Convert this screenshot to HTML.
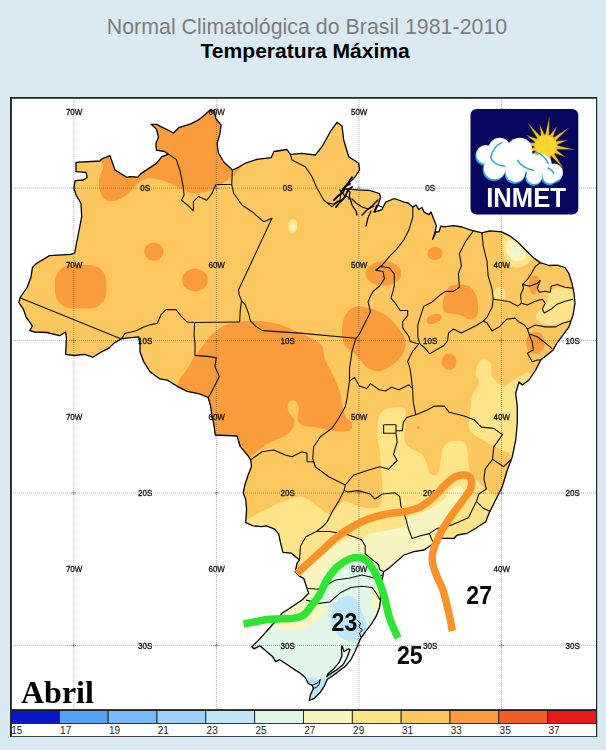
<!DOCTYPE html>
<html><head><meta charset="utf-8"><title>Normal Climatologica</title>
<style>
html,body{margin:0;padding:0}
body{width:606px;height:750px;background:#daeaf3;position:relative;overflow:hidden;font-family:"Liberation Sans",sans-serif}
.t1{position:absolute;left:106.8px;top:14.7px;font-size:21.38px;color:#7d7d7d;line-height:24px;white-space:nowrap;opacity:.999}
.t2{position:absolute;left:200.5px;top:39.2px;font-size:21.08px;font-weight:bold;color:#000;line-height:24px;white-space:nowrap;opacity:.999}
</style></head><body>
<div class="t1">Normal Climatológica do Brasil 1981-2010</div>
<div class="t2">Temperatura Máxima</div>
<svg width="606" height="750" viewBox="0 0 606 750" style="position:absolute;left:0;top:0">
<defs><clipPath id="br"><path d="M76.0 162.3 L100.0 161.0 L101.7 159.0 L110.0 155.7 L115.0 170.0 L126.7 177.3 L130.0 176.6 L137.9 177.1 L140.6 173.9 L148.5 168.6 L156.4 163.4 L161.7 156.8 L168.3 154.1 L164.3 151.5 L156.4 150.2 L155.9 143.6 L158.5 137.0 L156.4 129.0 L151.1 124.3 L156.4 124.3 L163.0 127.7 L173.6 133.0 L178.8 127.7 L190.7 123.8 L198.6 119.8 L205.2 114.5 L209.2 110.6 L214.5 110.6 L215.8 118.5 L221.1 125.1 L219.8 134.3 L217.1 143.6 L218.4 152.8 L223.7 162.0 L232.4 170.0 L238.3 167.3 L246.2 162.8 L256.7 159.4 L271.3 157.6 L273.9 151.5 L287.0 149.5 L290.3 154.3 L302.0 153.3 L315.3 155.0 L322.0 146.7 L330.3 131.7 L337.0 122.3 L342.0 126.0 L343.7 140.0 L348.7 156.7 L358.7 163.3 L359.6 170.0 L354.7 177.4 L344.8 187.3 L341.0 191.5 L344.8 188.6 L357.1 189.8 L369.5 190.3 L379.4 193.5 L380.6 197.2 L378.2 204.7 L374.5 212.1 L381.9 209.6 L385.6 202.2 L394.3 198.5 L404.2 202.2 L408.0 203.0 L412.8 207.1 L416.0 205.0 L419.0 209.6 L422.0 207.5 L424.0 212.1 L428.9 214.6 L431.0 212.0 L433.9 219.5 L436.4 225.7 L435.1 231.9 L432.7 239.3 L436.0 232.0 L438.8 231.9 L441.0 226.0 L443.8 226.9 L453.7 225.7 L462.0 227.0 L470.0 229.9 L481.9 232.9 L489.8 230.9 L501.7 231.9 L509.6 235.8 L517.5 241.8 L525.4 249.7 L533.4 257.6 L540.3 262.6 L549.2 265.5 L557.1 265.1 L565.0 267.5 L569.0 273.5 L572.0 283.4 L574.0 293.3 L575.0 303.2 L573.0 315.0 L569.0 326.9 L563.1 334.9 L557.1 342.8 L553.2 349.9 L540.7 360.0 L535.7 370.0 L529.0 380.0 L522.3 385.0 L519.0 382.0 L515.7 393.3 L517.3 406.7 L517.3 423.3 L515.7 440.0 L512.3 456.7 L507.3 470.0 L502.3 486.7 L499.0 493.3 L494.0 503.3 L489.0 513.3 L485.7 521.7 L475.7 528.3 L467.3 533.3 L457.3 535.0 L454.0 538.3 L440.7 538.3 L434.0 543.3 L424.0 550.0 L414.0 551.7 L404.0 555.0 L388.7 568.3 L383.7 571.7 L382.0 580.0 L380.3 590.0 L380.6 600.0 L379.4 607.9 L376.4 615.8 L371.5 623.8 L365.5 631.7 L360.6 638.6 L357.6 645.5 L354.9 651.8 L350.9 659.7 L345.0 666.6 L337.0 672.6 L330.1 677.5 L327.1 679.5 L324.2 686.4 L320.2 692.4 L314.3 698.3 L309.3 700.5 L310.3 695.3 L313.3 688.4 L312.3 685.4 L308.3 683.5 L305.3 677.5 L299.4 672.6 L294.5 669.6 L287.5 664.7 L279.6 659.7 L275.6 661.7 L272.7 656.7 L265.7 650.8 L259.8 645.8 L253.9 648.8 L251.9 646.8 L259.8 638.9 L267.7 630.0 L273.7 623.3 L282.0 613.3 L292.0 606.7 L302.0 600.0 L308.7 593.3 L307.0 588.3 L303.7 578.3 L300.3 576.7 L295.3 571.7 L297.0 563.3 L299.4 560.0 L291.1 553.1 L282.9 552.3 L280.4 542.4 L278.7 534.2 L274.6 529.2 L266.4 525.9 L261.4 526.7 L253.2 525.9 L245.7 522.6 L246.6 509.4 L245.7 499.5 L243.3 492.9 L244.9 484.7 L248.2 474.8 L251.5 466.5 L250.7 459.9 L248.7 456.7 L240.3 446.7 L237.0 436.0 L215.3 435.0 L213.7 423.3 L211.9 416.0 L210.6 406.1 L208.2 397.5 L199.5 393.8 L187.1 391.3 L177.2 386.3 L167.3 380.1 L159.9 378.9 L149.9 371.6 L143.7 361.7 L140.0 351.8 L140.0 344.4 L138.7 336.9 L126.3 338.2 L121.4 338.9 L114.0 343.1 L109.0 348.1 L101.6 351.8 L92.9 357.2 L84.3 354.3 L74.4 355.5 L65.7 354.3 L66.4 338.2 L65.7 332.0 L59.5 335.7 L47.1 332.5 L34.8 332.0 L29.8 330.7 L32.3 325.8 L26.1 317.1 L23.6 309.7 L18.7 302.3 L19.9 298.6 L21.1 296.0 L27.2 287.3 L31.1 276.7 L32.4 267.5 L36.4 263.5 L49.6 255.6 L70.7 254.3 L74.7 253.0 L76.0 246.0 L81.7 216.7 L81.0 203.3 L76.0 195.0 L74.0 188.3 L75.0 180.7 L83.3 180.0 L87.3 177.3 L86.0 172.3 L76.0 171.7Z"/></clipPath></defs>
<rect x="10" y="97" width="587" height="640" fill="#fff"/>
<g clip-path="url(#br)">
<rect x="0" y="90" width="606" height="640" fill="#fdc75f"/>
<path d="M235.0 522.0 C237.9 488.6 243.3 520.8 247.4 519.3 C251.5 517.8 255.5 514.9 259.8 512.7 C264.1 510.5 268.9 508.0 273.0 506.1 C277.1 504.2 280.9 502.6 284.5 501.2 C288.1 499.8 291.4 498.6 294.4 497.9 C297.4 497.2 299.9 496.4 302.7 497.0 C305.4 497.6 308.1 499.4 310.9 501.2 C313.6 503.0 316.4 505.8 319.2 507.8 C321.9 509.9 325.2 512.7 327.4 513.5 C329.6 514.3 330.1 514.4 332.4 512.7 C334.7 511.0 338.7 504.9 341.4 503.1 C344.1 501.3 345.9 501.3 348.8 501.9 C351.7 502.5 355.4 505.8 358.7 506.8 C362.0 507.8 365.1 508.2 368.6 508.1 C372.1 508.0 377.6 509.5 379.9 506.3 C382.2 503.1 382.2 494.8 382.4 489.0 C382.6 483.2 381.5 477.9 381.1 471.7 C380.7 465.5 380.5 458.1 379.9 451.9 C379.3 445.7 377.6 440.4 377.4 434.6 C377.2 428.8 377.4 421.3 378.7 417.2 C379.9 413.1 381.8 411.4 384.9 409.8 C388.0 408.2 393.9 407.5 397.2 407.3 C400.5 407.1 403.2 407.0 404.7 408.6 C406.1 410.2 405.9 413.7 405.9 417.2 C405.9 420.7 404.9 425.5 404.7 429.6 C404.5 433.7 403.5 438.7 404.7 442.0 C405.9 445.3 409.2 447.3 412.1 449.4 C415.0 451.5 419.5 451.9 422.0 454.4 C424.5 456.9 425.7 461.2 426.9 464.3 C428.1 467.4 427.9 471.0 429.4 472.9 C430.8 474.8 434.0 476.0 435.6 475.4 C437.2 474.8 438.3 473.1 439.3 469.2 C440.3 465.3 440.6 456.2 441.8 451.9 C443.0 447.6 444.2 445.1 446.7 443.2 C449.2 441.3 453.5 440.7 456.6 440.7 C459.7 440.7 463.4 440.9 465.3 443.2 C467.2 445.5 467.2 450.5 467.8 454.4 C468.4 458.3 468.0 463.0 469.0 466.7 C470.0 470.4 471.9 473.5 474.0 476.6 C476.1 479.7 478.9 482.8 481.4 485.3 C483.9 487.8 485.9 489.6 488.8 491.5 C491.7 493.4 494.3 495.3 498.7 496.4 C503.1 497.5 511.4 460.7 515.0 498.0 C518.5 535.3 567.5 683.0 520.0 720.0 C472.5 757.0 277.5 753.0 230.0 720.0 C182.5 687.0 232.1 555.5 235.0 522.0Z" fill="#fde488"/>
<path d="M480.7 360.0 C483.2 358.3 488.8 360.5 490.7 363.3 C492.6 366.1 490.1 372.8 492.3 376.7 C494.5 380.6 500.4 386.1 504.0 386.7 C507.6 387.2 509.3 381.4 514.0 380.0 C518.7 378.6 529.0 365.0 532.0 378.0 C535.0 391.0 535.3 445.1 532.0 458.0 C528.7 470.9 516.2 456.4 512.3 455.6 C508.4 454.8 510.9 454.3 508.6 453.1 C506.3 451.9 502.4 450.1 498.7 448.2 C495.0 446.3 490.4 444.3 486.3 442.0 C482.2 439.7 476.9 437.1 474.0 434.6 C471.1 432.1 469.7 430.2 469.0 427.1 C468.3 424.0 469.5 421.0 470.0 416.0 C470.5 411.0 470.5 402.5 472.0 397.0 C473.5 391.5 478.4 386.9 479.0 383.0 C479.6 379.1 475.4 377.1 475.7 373.3 C476.0 369.5 478.2 361.7 480.7 360.0Z" fill="#fde488"/>
<path d="M292.0 576.0 C294.1 573.1 295.6 573.9 297.9 572.4 C300.2 570.9 302.7 569.3 305.8 567.1 C308.9 564.9 312.4 562.2 316.4 559.2 C320.4 556.2 325.6 552.1 330.0 549.0 C334.4 545.9 338.9 542.7 342.8 540.7 C346.7 538.7 350.3 537.0 353.4 536.8 C356.5 536.6 358.7 539.8 361.3 539.4 C363.9 539.0 366.1 535.4 369.2 534.1 C372.3 532.8 375.4 532.4 379.8 531.5 C384.2 530.6 391.2 529.9 395.6 528.8 C400.0 527.7 404.3 526.6 406.2 524.9 C408.1 523.2 404.9 520.6 407.1 518.7 C409.3 516.9 414.9 515.9 419.5 513.8 C424.1 511.7 430.3 508.8 434.4 506.3 C438.5 503.8 441.4 501.8 444.3 498.9 C447.2 496.0 449.0 491.1 451.7 489.0 C454.4 486.9 458.2 485.7 460.3 486.5 C462.4 487.3 464.7 490.7 464.1 494.0 C463.5 497.3 459.5 501.8 456.6 506.3 C453.7 510.8 449.6 516.7 446.7 521.2 C443.8 525.8 441.1 529.6 439.3 533.6 C437.5 537.6 436.6 540.6 436.0 545.0 C435.4 549.4 442.0 550.8 436.0 560.0 C430.0 569.2 407.7 573.3 400.0 600.0 C392.3 626.7 416.7 700.0 390.0 720.0 C363.3 740.0 265.0 740.0 240.0 720.0 C215.0 700.0 232.5 621.7 240.0 600.0 C247.5 578.3 276.3 594.0 285.0 590.0 C293.7 586.0 289.9 578.9 292.0 576.0Z" fill="#f8f5c0"/>
<path d="M300.0 608.0 C306.4 605.4 305.3 602.1 308.1 599.4 C310.9 596.6 314.8 594.4 316.6 591.5 C318.5 588.6 317.9 585.1 319.2 582.2 C320.5 579.3 321.9 577.1 324.5 574.3 C327.1 571.4 330.6 568.2 335.0 565.1 C339.4 562.0 346.0 557.6 350.9 555.8 C355.8 554.0 360.6 553.6 364.1 554.5 C367.6 555.4 369.8 559.1 372.0 561.1 C374.2 563.1 375.5 564.4 377.3 566.4 C379.1 568.4 380.1 570.7 383.0 573.0 C385.9 575.3 393.0 555.5 395.0 580.0 C397.0 604.5 420.8 696.7 395.0 720.0 C369.2 743.3 265.8 733.3 240.0 720.0 C214.2 706.7 235.0 657.5 240.0 640.0 C245.0 622.5 260.0 620.3 270.0 615.0 C280.0 609.7 293.6 610.6 300.0 608.0Z" fill="#dff6e8"/>
<path d="M268.0 622.0 C268.9 620.7 275.9 620.4 279.6 617.9 C283.3 615.4 286.7 609.9 290.2 607.3 C293.7 604.6 296.8 602.6 300.7 602.0 C304.6 601.4 310.4 603.2 313.9 603.4 C317.4 603.6 319.6 602.5 321.8 603.4 C324.0 604.3 327.1 606.4 327.1 608.6 C327.1 610.8 324.4 614.0 321.8 616.6 C319.2 619.2 315.2 622.3 311.3 624.5 C307.4 626.7 302.5 628.8 298.1 629.8 C293.7 630.8 288.9 631.0 284.9 630.3 C280.9 629.6 277.1 627.2 274.3 625.8 C271.5 624.4 267.1 623.3 268.0 622.0Z" fill="#f8f5c0"/>
<path d="M384.5 600.0 C384.5 601.7 384.3 603.6 384.0 605.2 C383.7 606.8 383.2 608.3 382.6 609.5 C382.0 610.8 381.3 611.8 380.5 612.5 C379.7 613.1 378.8 613.5 378.0 613.5 C377.2 613.5 376.3 613.1 375.5 612.5 C374.7 611.8 374.0 610.8 373.4 609.5 C372.8 608.3 372.3 606.8 372.0 605.2 C371.7 603.6 371.5 601.7 371.5 600.0 C371.5 598.3 371.7 596.4 372.0 594.8 C372.3 593.2 372.8 591.7 373.4 590.5 C374.0 589.2 374.7 588.2 375.5 587.5 C376.3 586.9 377.2 586.5 378.0 586.5 C378.8 586.5 379.7 586.9 380.5 587.5 C381.3 588.2 382.0 589.2 382.6 590.5 C383.2 591.7 383.7 593.2 384.0 594.8 C384.3 596.4 384.5 598.3 384.5 600.0Z" fill="#f8f5c0"/>
<path d="M335.0 603.4 C337.3 601.1 342.1 596.7 345.6 596.0 C349.1 595.3 353.3 596.4 356.2 599.4 C359.1 602.4 361.1 609.7 362.8 613.9 C364.6 618.1 366.9 620.5 366.7 624.5 C366.5 628.5 364.1 634.9 361.5 637.7 C358.9 640.6 354.2 641.6 350.9 641.6 C347.6 641.6 344.5 639.7 341.6 637.7 C338.7 635.7 335.5 632.9 333.7 629.8 C331.9 626.7 330.9 622.5 330.6 619.2 C330.3 615.9 331.2 612.6 331.9 610.0 C332.6 607.4 332.7 605.7 335.0 603.4Z" fill="#bfe6f8"/>
<path d="M303.0 679.5 C303.7 674.5 305.6 678.7 307.3 678.3 C309.0 677.9 311.5 677.2 313.3 677.3 C315.1 677.4 316.6 678.9 318.2 679.0 C319.8 679.1 320.7 678.8 323.0 678.0 C325.3 677.2 329.8 670.0 332.0 674.0 C334.2 678.0 340.8 696.3 336.0 702.0 C331.2 707.7 308.5 711.8 303.0 708.0 C297.5 704.2 302.3 684.5 303.0 679.5Z" fill="#bfe6f8"/>
<path d="M502.7 237.8 C503.8 236.2 506.2 233.0 509.0 234.0 C511.8 235.0 516.1 240.7 519.5 243.8 C522.9 246.9 527.6 250.1 529.4 252.7 C531.2 255.3 531.1 257.5 530.4 259.6 C529.7 261.7 527.9 264.2 525.4 265.5 C522.9 266.8 518.5 267.8 515.5 267.5 C512.5 267.2 509.6 265.9 507.6 263.6 C505.6 261.3 504.5 257.0 503.7 253.7 C502.9 250.4 502.9 246.5 502.7 243.8 C502.5 241.2 501.6 239.4 502.7 237.8Z" fill="#fde488"/>
<path d="M507.6 241.8 C509.1 240.8 512.7 239.7 515.5 240.8 C518.3 242.0 522.7 246.2 524.5 248.7 C526.3 251.2 526.9 253.6 526.4 255.6 C525.9 257.6 523.8 259.8 521.5 260.6 C519.2 261.4 514.9 261.8 512.6 260.6 C510.3 259.5 508.7 256.0 507.6 253.7 C506.6 251.4 506.3 248.7 506.3 246.7 C506.3 244.7 506.1 242.8 507.6 241.8Z" fill="#f8f5c0"/>
<path d="M518.6 250.7 C518.6 251.0 518.5 251.4 518.4 251.7 C518.3 252.1 518.1 252.4 517.8 252.6 C517.6 252.9 517.3 253.1 516.9 253.2 C516.6 253.3 516.2 253.4 515.9 253.4 C515.6 253.4 515.2 253.3 514.9 253.2 C514.5 253.1 514.2 252.9 514.0 252.6 C513.7 252.4 513.5 252.1 513.4 251.7 C513.3 251.4 513.2 251.0 513.2 250.7 C513.2 250.4 513.3 250.0 513.4 249.7 C513.5 249.3 513.7 249.0 514.0 248.8 C514.2 248.5 514.5 248.3 514.9 248.2 C515.2 248.1 515.6 248.0 515.9 248.0 C516.2 248.0 516.6 248.1 516.9 248.2 C517.3 248.3 517.6 248.5 517.8 248.8 C518.1 249.0 518.3 249.3 518.4 249.7 C518.5 250.0 518.6 250.4 518.6 250.7Z" fill="#dff6e8"/>
<path d="M505.7 294.3 C505.7 295.2 505.5 296.2 505.2 297.0 C505.0 297.8 504.5 298.6 503.9 299.2 C503.4 299.9 502.7 300.4 502.0 300.8 C501.3 301.1 500.5 301.3 499.7 301.3 C498.9 301.3 498.1 301.1 497.4 300.8 C496.7 300.4 496.0 299.9 495.5 299.2 C494.9 298.6 494.4 297.8 494.2 297.0 C493.9 296.2 493.7 295.2 493.7 294.3 C493.7 293.4 493.9 292.4 494.2 291.6 C494.4 290.8 494.9 290.0 495.5 289.4 C496.0 288.7 496.7 288.2 497.4 287.8 C498.1 287.5 498.9 287.3 499.7 287.3 C500.5 287.3 501.3 287.5 502.0 287.8 C502.7 288.2 503.4 288.7 503.9 289.4 C504.5 290.0 505.0 290.8 505.2 291.6 C505.5 292.4 505.7 293.4 505.7 294.3Z" fill="#fde488"/>
<path d="M549.2 293.3 C550.7 291.5 554.1 289.0 557.1 288.3 C560.1 287.6 563.5 288.7 567.0 289.3 C570.5 289.9 576.2 287.2 578.0 292.0 C579.8 296.8 579.2 313.7 578.0 318.0 C576.8 322.3 573.5 317.2 571.0 318.0 C568.5 318.8 566.1 321.8 563.1 323.0 C560.1 324.2 556.5 325.0 553.2 325.0 C549.9 325.0 546.1 324.0 543.3 323.0 C540.5 322.0 537.3 320.6 536.3 319.0 C535.3 317.4 536.1 315.1 537.3 313.1 C538.5 311.1 541.5 309.4 543.3 307.1 C545.1 304.8 547.2 301.5 548.2 299.2 C549.2 296.9 547.7 295.1 549.2 293.3Z" fill="#fde488"/>
<path d="M297.3 226.0 C297.3 226.9 297.2 227.8 296.9 228.6 C296.7 229.4 296.4 230.2 296.0 230.8 C295.5 231.4 295.0 232.0 294.5 232.3 C293.9 232.6 293.3 232.8 292.7 232.8 C292.1 232.8 291.5 232.6 290.9 232.3 C290.4 232.0 289.9 231.4 289.4 230.8 C289.0 230.2 288.7 229.4 288.5 228.6 C288.2 227.8 288.1 226.9 288.1 226.0 C288.1 225.1 288.2 224.2 288.5 223.4 C288.7 222.6 289.0 221.8 289.4 221.2 C289.9 220.6 290.4 220.0 290.9 219.7 C291.5 219.4 292.1 219.2 292.7 219.2 C293.3 219.2 293.9 219.4 294.5 219.7 C295.0 220.0 295.5 220.6 296.0 221.2 C296.4 221.8 296.7 222.6 296.9 223.4 C297.2 224.2 297.3 225.1 297.3 226.0Z" fill="#fde488"/>
<path d="M295.3 226.5 C295.3 227.0 295.2 227.6 295.1 228.1 C295.0 228.6 294.8 229.1 294.5 229.5 C294.3 229.8 294.0 230.2 293.7 230.4 C293.4 230.6 293.0 230.7 292.7 230.7 C292.4 230.7 292.0 230.6 291.7 230.4 C291.4 230.2 291.1 229.8 290.9 229.5 C290.6 229.1 290.4 228.6 290.3 228.1 C290.2 227.6 290.1 227.0 290.1 226.5 C290.1 226.0 290.2 225.4 290.3 224.9 C290.4 224.4 290.6 223.9 290.9 223.5 C291.1 223.2 291.4 222.8 291.7 222.6 C292.0 222.4 292.4 222.3 292.7 222.3 C293.0 222.3 293.4 222.4 293.7 222.6 C294.0 222.8 294.3 223.2 294.5 223.5 C294.8 223.9 295.0 224.4 295.1 224.9 C295.2 225.4 295.3 226.0 295.3 226.5Z" fill="#f8f5c0"/>
<path d="M95.0 150.0 C96.3 160.8 102.3 160.0 103.0 165.0 C103.7 170.0 99.3 175.2 99.0 180.0 C98.7 184.8 99.5 190.5 101.0 194.0 C102.5 197.5 104.8 200.2 108.0 201.0 C111.2 201.8 116.3 200.6 120.0 199.0 C123.7 197.4 126.1 194.8 130.0 191.5 C133.9 188.2 138.8 181.6 143.2 179.5 C147.6 177.4 152.0 178.6 156.4 179.2 C160.8 179.8 165.2 181.4 169.6 183.2 C174.0 185.0 179.3 188.2 182.8 189.8 C186.3 191.4 187.2 192.5 190.7 192.9 C194.2 193.3 199.9 193.2 203.9 192.4 C207.9 191.7 211.0 190.2 214.5 188.4 C218.0 186.6 222.1 183.8 225.0 181.8 C227.9 179.8 229.0 179.0 231.7 176.6 C234.3 174.2 238.7 171.7 240.9 167.3 C243.1 162.9 245.2 161.2 245.0 150.0 C244.8 138.8 265.0 108.3 240.0 100.0 C215.0 91.7 119.2 91.7 95.0 100.0 C70.8 108.3 93.7 139.2 95.0 150.0Z" fill="#fa9c3b"/>
<path d="M163.5 251.6 C163.5 252.8 163.2 254.0 162.8 255.1 C162.3 256.2 161.6 257.2 160.7 258.0 C159.8 258.9 158.7 259.6 157.6 260.0 C156.4 260.5 155.1 260.7 153.9 260.7 C152.7 260.7 151.4 260.5 150.2 260.0 C149.1 259.6 148.0 258.9 147.1 258.0 C146.2 257.2 145.5 256.2 145.0 255.1 C144.6 254.0 144.3 252.8 144.3 251.6 C144.3 250.4 144.6 249.2 145.0 248.1 C145.5 247.0 146.2 246.0 147.1 245.2 C148.0 244.3 149.1 243.6 150.2 243.2 C151.4 242.7 152.7 242.5 153.9 242.5 C155.1 242.5 156.4 242.7 157.6 243.2 C158.7 243.6 159.8 244.3 160.7 245.2 C161.6 246.0 162.3 247.0 162.8 248.1 C163.2 249.2 163.5 250.4 163.5 251.6Z" fill="#fa9c3b"/>
<path d="M208.0 280.0 C208.0 281.5 207.6 283.0 207.0 284.4 C206.4 285.8 205.4 287.1 204.2 288.1 C203.0 289.2 201.5 290.1 200.0 290.6 C198.4 291.2 196.7 291.5 195.0 291.5 C193.3 291.5 191.6 291.2 190.0 290.6 C188.5 290.1 187.0 289.2 185.8 288.1 C184.6 287.1 183.6 285.8 183.0 284.4 C182.4 283.0 182.0 281.5 182.0 280.0 C182.0 278.5 182.4 277.0 183.0 275.6 C183.6 274.2 184.6 272.9 185.8 271.9 C187.0 270.8 188.5 269.9 190.0 269.4 C191.6 268.8 193.3 268.5 195.0 268.5 C196.7 268.5 198.4 268.8 200.0 269.4 C201.5 269.9 203.0 270.8 204.2 271.9 C205.4 272.9 206.4 274.2 207.0 275.6 C207.6 277.0 208.0 278.5 208.0 280.0Z" fill="#fa9c3b"/>
<rect x="55" y="265" width="51.5" height="43.5" rx="17" ry="17" fill="#fa9c3b"/>
<path d="M172.0 392.0 C169.0 389.5 175.9 387.3 177.2 385.1 C178.5 382.9 178.0 381.6 179.7 378.9 C181.3 376.2 184.6 372.7 187.1 369.0 C189.6 365.3 192.1 360.3 194.6 356.6 C197.1 352.9 199.1 350.4 202.0 346.7 C204.9 343.0 208.2 337.9 211.9 334.4 C215.6 330.9 219.8 327.8 224.3 325.7 C228.8 323.6 234.2 322.8 239.1 322.0 C244.0 321.2 249.1 320.7 254.0 320.7 C258.9 320.7 263.9 321.2 268.8 322.0 C273.8 322.8 278.5 323.9 283.7 325.7 C288.9 327.5 294.8 330.6 300.0 333.0 C305.2 335.4 311.2 338.0 314.9 340.2 C318.6 342.4 320.6 343.3 322.3 346.4 C324.0 349.5 323.2 354.2 324.8 358.8 C326.4 363.4 329.7 368.3 332.2 373.7 C334.7 379.1 337.8 385.3 339.6 391.0 C341.4 396.7 341.9 403.7 343.0 408.0 C344.1 412.3 344.5 414.4 346.0 417.0 C347.5 419.6 351.3 421.1 352.0 423.3 C352.7 425.5 352.0 428.6 350.3 430.0 C348.6 431.4 345.6 431.7 342.0 431.7 C338.4 431.7 333.7 430.8 328.7 430.0 C323.7 429.2 315.8 427.3 312.0 426.7 C308.2 426.1 307.9 426.9 306.0 426.5 C304.1 426.1 301.9 425.2 300.5 424.0 C299.1 422.8 297.8 421.5 297.5 419.5 C297.2 417.5 298.4 414.4 298.5 412.0 C298.6 409.6 298.7 406.9 298.0 405.0 C297.3 403.1 295.8 401.2 294.5 400.5 C293.2 399.8 291.2 400.1 290.0 401.0 C288.8 401.9 287.7 404.1 287.5 406.0 C287.3 407.9 288.1 410.6 289.0 412.5 C289.9 414.4 292.1 415.8 293.0 417.5 C293.9 419.2 294.6 420.6 294.5 422.5 C294.4 424.4 293.7 426.8 292.2 429.0 C290.7 431.2 289.5 433.2 285.6 435.6 C281.7 438.0 273.2 440.9 268.7 443.3 C264.2 445.7 261.8 447.8 258.7 450.0 C255.6 452.2 253.4 454.7 250.3 456.7 C247.2 458.7 244.2 463.9 240.0 462.0 C235.8 460.1 230.8 448.7 225.0 445.0 C219.2 441.3 210.0 447.5 205.0 440.0 C200.0 432.5 200.5 408.0 195.0 400.0 C189.5 392.0 175.0 394.5 172.0 392.0Z" fill="#fa9c3b"/>
<path d="M342.0 331.6 C342.0 326.9 342.5 320.8 344.6 316.7 C346.7 312.6 350.4 308.2 354.5 306.8 C358.6 305.4 364.4 306.8 369.3 308.0 C374.2 309.2 379.7 311.4 384.2 314.3 C388.7 317.2 393.0 321.3 396.5 325.4 C400.0 329.5 403.9 334.7 405.2 339.0 C406.4 343.3 405.9 347.3 404.0 351.4 C402.1 355.5 398.1 360.5 394.0 363.8 C389.9 367.1 383.7 370.6 379.2 371.2 C374.7 371.8 370.1 369.6 366.8 367.5 C363.5 365.4 361.9 361.5 359.4 358.8 C356.9 356.1 354.5 353.7 352.0 351.4 C349.5 349.1 346.3 348.5 344.6 345.2 C342.9 341.9 342.0 336.4 342.0 331.6Z" fill="#fa9c3b"/>
<path d="M401.5 273.5 C401.5 275.1 401.0 276.7 400.1 278.2 C399.3 279.6 397.9 281.0 396.2 282.1 C394.6 283.2 392.5 284.2 390.4 284.8 C388.3 285.4 385.8 285.7 383.5 285.7 C381.2 285.7 378.7 285.4 376.6 284.8 C374.5 284.2 372.4 283.2 370.8 282.1 C369.1 281.0 367.7 279.6 366.9 278.2 C366.0 276.7 365.5 275.1 365.5 273.5 C365.5 271.9 366.0 270.3 366.9 268.8 C367.7 267.4 369.1 266.0 370.8 264.9 C372.4 263.8 374.5 262.8 376.6 262.2 C378.7 261.6 381.2 261.3 383.5 261.3 C385.8 261.3 388.3 261.6 390.4 262.2 C392.5 262.8 394.6 263.8 396.2 264.9 C397.9 266.0 399.3 267.4 400.1 268.8 C401.0 270.3 401.5 271.9 401.5 273.5Z" fill="#fa9c3b"/>
<path d="M442.6 253.5 C442.6 254.3 442.4 255.2 442.0 256.0 C441.7 256.8 441.1 257.6 440.4 258.2 C439.7 258.8 438.8 259.3 437.9 259.6 C437.0 259.9 436.0 260.1 435.0 260.1 C434.0 260.1 433.0 259.9 432.1 259.6 C431.2 259.3 430.3 258.8 429.6 258.2 C428.9 257.6 428.3 256.8 428.0 256.0 C427.6 255.2 427.4 254.3 427.4 253.5 C427.4 252.7 427.6 251.8 428.0 251.0 C428.3 250.2 428.9 249.4 429.6 248.8 C430.3 248.2 431.2 247.7 432.1 247.4 C433.0 247.1 434.0 246.9 435.0 246.9 C436.0 246.9 437.0 247.1 437.9 247.4 C438.8 247.7 439.7 248.2 440.4 248.8 C441.1 249.4 441.7 250.2 442.0 251.0 C442.4 251.8 442.6 252.7 442.6 253.5Z" fill="#fa9c3b"/>
<path d="M442.0 316.5 C442.2 317.0 442.1 317.6 441.9 318.2 C441.6 318.8 441.2 319.5 440.6 320.0 C440.0 320.6 439.2 321.1 438.4 321.6 C437.6 322.0 436.6 322.4 435.6 322.7 C434.7 322.9 433.6 323.1 432.6 323.1 C431.7 323.1 430.7 323.1 430.0 322.9 C429.2 322.7 428.5 322.3 428.0 322.0 C427.5 321.6 427.1 321.0 427.0 320.5 C426.8 320.0 426.9 319.4 427.1 318.8 C427.4 318.2 427.8 317.5 428.4 317.0 C429.0 316.4 429.8 315.9 430.6 315.4 C431.4 315.0 432.4 314.6 433.4 314.3 C434.3 314.1 435.4 313.9 436.4 313.9 C437.3 313.9 438.3 313.9 439.0 314.1 C439.8 314.3 440.5 314.7 441.0 315.0 C441.5 315.4 441.9 316.0 442.0 316.5Z" fill="#fa9c3b"/>
<path d="M449.5 286.4 C451.8 284.9 456.1 284.5 459.4 284.5 C462.7 284.5 466.7 284.9 469.3 286.4 C471.9 287.9 473.8 291.0 475.2 293.4 C476.6 295.8 477.0 298.4 477.5 301.0 C478.0 303.6 478.4 306.5 478.2 309.2 C478.0 311.9 477.7 315.5 476.2 317.1 C474.7 318.8 472.1 319.4 469.3 319.1 C466.5 318.8 462.7 316.1 459.4 315.1 C456.1 314.1 452.1 313.9 449.5 313.2 C446.9 312.5 444.7 313.2 443.6 311.2 C442.5 309.2 442.7 304.3 443.0 301.3 C443.3 298.3 444.4 295.9 445.5 293.4 C446.6 290.9 447.2 287.9 449.5 286.4Z" fill="#fa9c3b"/>
<path d="M438.4 319.5 C438.5 319.9 438.4 320.4 438.2 320.9 C438.0 321.3 437.6 321.8 437.1 322.2 C436.6 322.6 436.0 323.0 435.3 323.3 C434.7 323.6 433.9 323.8 433.1 323.9 C432.4 324.1 431.5 324.1 430.8 324.1 C430.1 324.0 429.3 323.9 428.8 323.7 C428.2 323.5 427.6 323.1 427.3 322.8 C426.9 322.4 426.7 322.0 426.6 321.5 C426.5 321.1 426.6 320.6 426.8 320.1 C427.0 319.7 427.4 319.2 427.9 318.8 C428.4 318.4 429.0 318.0 429.7 317.7 C430.3 317.4 431.1 317.2 431.9 317.1 C432.6 316.9 433.5 316.9 434.2 316.9 C434.9 317.0 435.7 317.1 436.2 317.3 C436.8 317.5 437.4 317.9 437.7 318.2 C438.1 318.6 438.3 319.0 438.4 319.5Z" fill="#fa9c3b"/>
<path d="M529.4 279.4 C530.2 277.4 532.8 275.6 534.4 275.4 C536.0 275.2 538.6 276.4 539.3 278.4 C539.9 280.4 539.0 284.6 538.3 287.3 C537.6 290.0 536.4 293.3 535.3 294.3 C534.1 295.3 532.4 294.5 531.4 293.3 C530.4 292.1 529.7 289.6 529.4 287.3 C529.1 285.0 528.6 281.4 529.4 279.4Z" fill="#fa9c3b"/>
<path d="M545.0 343.0 C545.0 344.4 544.7 345.9 544.3 347.2 C543.8 348.5 543.1 349.8 542.2 350.8 C541.4 351.8 540.3 352.6 539.1 353.2 C538.0 353.7 536.7 354.0 535.5 354.0 C534.3 354.0 533.0 353.7 531.9 353.2 C530.7 352.6 529.6 351.8 528.8 350.8 C527.9 349.8 527.2 348.5 526.7 347.2 C526.3 345.9 526.0 344.4 526.0 343.0 C526.0 341.6 526.3 340.1 526.7 338.8 C527.2 337.5 527.9 336.2 528.8 335.2 C529.6 334.2 530.7 333.4 531.9 332.8 C533.0 332.3 534.3 332.0 535.5 332.0 C536.7 332.0 538.0 332.3 539.1 332.8 C540.3 333.4 541.4 334.2 542.2 335.2 C543.1 336.2 543.8 337.5 544.3 338.8 C544.7 340.1 545.0 341.6 545.0 343.0Z" fill="#fa9c3b"/>
<path d="M456.3 361.7 C456.3 362.8 456.1 363.9 455.7 364.9 C455.4 365.9 454.8 366.8 454.2 367.6 C453.5 368.3 452.7 369.0 451.8 369.4 C450.9 369.8 449.9 370.0 449.0 370.0 C448.1 370.0 447.1 369.8 446.2 369.4 C445.3 369.0 444.5 368.3 443.8 367.6 C443.2 366.8 442.6 365.9 442.3 364.9 C441.9 363.9 441.7 362.8 441.7 361.7 C441.7 360.6 441.9 359.5 442.3 358.5 C442.6 357.5 443.2 356.6 443.8 355.8 C444.5 355.1 445.3 354.4 446.2 354.0 C447.1 353.6 448.1 353.4 449.0 353.4 C449.9 353.4 450.9 353.6 451.8 354.0 C452.7 354.4 453.5 355.1 454.2 355.8 C454.8 356.6 455.4 357.5 455.7 358.5 C456.1 359.5 456.3 360.6 456.3 361.7Z" fill="#fa9c3b"/>
<path d="M419.9 427.7 C419.9 427.9 419.9 428.1 419.8 428.3 C419.7 428.5 419.6 428.7 419.4 428.8 C419.3 429.0 419.1 429.1 418.9 429.2 C418.7 429.3 418.5 429.3 418.3 429.3 C418.1 429.3 417.9 429.3 417.7 429.2 C417.5 429.1 417.3 429.0 417.2 428.8 C417.0 428.7 416.9 428.5 416.8 428.3 C416.7 428.1 416.7 427.9 416.7 427.7 C416.7 427.5 416.7 427.3 416.8 427.1 C416.9 426.9 417.0 426.7 417.2 426.6 C417.3 426.4 417.5 426.3 417.7 426.2 C417.9 426.1 418.1 426.1 418.3 426.1 C418.5 426.1 418.7 426.1 418.9 426.2 C419.1 426.3 419.3 426.4 419.4 426.6 C419.6 426.7 419.7 426.9 419.8 427.1 C419.9 427.3 419.9 427.5 419.9 427.7Z" fill="#fa9c3b"/>
<path d="M353.9 624.8 C353.9 625.1 353.8 625.4 353.7 625.6 C353.6 625.9 353.5 626.2 353.3 626.4 C353.1 626.6 352.8 626.7 352.5 626.8 C352.3 626.9 352.0 627.0 351.7 627.0 C351.4 627.0 351.1 626.9 350.9 626.8 C350.6 626.7 350.3 626.6 350.1 626.4 C349.9 626.2 349.8 625.9 349.7 625.6 C349.6 625.4 349.5 625.1 349.5 624.8 C349.5 624.5 349.6 624.2 349.7 624.0 C349.8 623.7 349.9 623.4 350.1 623.2 C350.3 623.0 350.6 622.9 350.9 622.8 C351.1 622.7 351.4 622.6 351.7 622.6 C352.0 622.6 352.3 622.7 352.5 622.8 C352.8 622.9 353.1 623.0 353.3 623.2 C353.5 623.4 353.6 623.7 353.7 624.0 C353.8 624.2 353.9 624.5 353.9 624.8Z" fill="#9cd0f8"/>
</g>
<g fill="none" stroke="#111" stroke-width="1.1" stroke-linejoin="round">
<path d="M168.3 154.1 L176.2 159.4 L180.2 171.3 L182.8 184.5 L184.1 195.0 L181.5 200.3 L188.1 205.6 L193.4 210.9 L193.4 201.6 L198.6 196.4 L206.6 200.3 L211.8 193.7 L215.8 184.5 L231.7 184.5 L232.4 170.0"/>
<path d="M231.7 184.5 L233.7 193.3 L242.0 205.0 L252.0 211.7 L263.7 221.7 L272.0 218.3 L238.6 289.8 L239.1 294.8 L241.6 300.9 L240.3 309.6 L239.6 322.0"/>
<path d="M241.6 300.9 L245.3 304.7 L249.0 314.6 L250.2 320.7 L256.4 326.9 L262.6 330.6 L300.0 333.1 L355.7 338.3"/>
<path d="M194.6 322.5 L239.6 322.0"/>
<path d="M121.4 338.9 L125.1 333.2 L131.3 332.0 L136.2 330.7 L143.7 327.0 L151.1 324.6 L157.4 323.2 L161.1 314.6 L166.1 309.6 L176.0 309.6 L180.9 315.8 L187.1 322.0 L194.6 322.5"/>
<path d="M194.6 322.5 L194.1 334.4 L195.0 344.3 L195.0 355.4 L209.4 356.6 L216.3 357.9 L214.9 366.5 L219.3 376.4 L215.6 383.9 L210.6 393.8 L208.2 397.5"/>
<path d="M19.9 297.8 L121.4 338.9"/>
<path d="M290.3 154.3 L292.0 160.0 L305.3 166.7 L312.0 176.7 L317.0 188.3 L323.7 200.0 L332.0 206.7 L340.0 200.0 L341.0 192.0"/>
<path d="M412.8 207.1 L412.8 217.0 L409.1 229.4 L404.2 239.3 L396.7 249.2 L389.3 256.6 L381.9 265.3 L375.7 270.2"/>
<path d="M375.7 270.2 L383.1 271.5 L384.4 278.9 L379.4 286.3 L373.2 291.3 L370.5 296.0 L368.1 301.9 L370.5 311.8 L364.4 324.2 L359.4 334.1 L355.7 339.0 L352.0 351.4 L349.5 368.7 L349.5 381.1"/>
<path d="M349.5 381.1 L347.0 398.4 L345.3 406.7 L338.7 418.3 L332.0 428.3 L320.3 436.7 L313.7 446.7 L312.7 458.3 L315.3 466.7"/>
<path d="M375.7 270.2 L380.6 266.5 L389.3 267.8 L394.3 274.0 L394.3 286.3 L391.0 298.2 L395.3 303.1 L400.2 310.5 L407.7 310.5 L407.7 315.5 L402.7 321.7 L402.7 327.9 L408.9 336.5 L410.1 341.5 L418.8 344.0"/>
<path d="M473.3 231.0 L465.3 241.9 L459.4 253.8 L461.4 265.6 L458.4 273.6 L459.4 287.4 L453.5 291.4 L445.5 291.4 L439.6 295.3 L431.7 302.3 L423.8 306.2 L420.8 315.1 L417.8 325.0 L417.8 336.9 L419.8 343.9"/>
<path d="M481.9 232.9 L483.2 245.8 L487.1 261.7 L488.1 275.5 L492.1 289.4 L493.1 299.3 L492.1 307.2 L487.1 317.1 L483.2 321.1 L477.2 325.0 L469.3 329.0 L461.4 333.0 L453.5 329.0 L448.5 333.0 L447.5 340.9 L443.6 345.8 L436.6 349.8 L429.7 353.8 L424.8 347.8 L419.8 343.9"/>
<path d="M418.8 344.0 L412.6 351.4 L407.7 361.3 L410.1 368.7 L411.4 378.6 L412.6 388.5"/>
<path d="M349.5 381.1 L354.5 377.4 L359.4 386.0 L366.8 388.5 L370.5 383.6 L379.2 389.8 L385.4 391.0 L391.6 387.3 L399.0 389.8 L408.9 384.8 L412.6 388.5"/>
<path d="M412.6 388.5 L413.3 402.4 L415.8 414.8"/>
<path d="M383.6 424.7 L396.0 424.7 L396.0 433.3 L383.6 433.3 L383.6 424.7"/>
<path d="M415.8 414.8 L427.3 410.0 L434.4 406.1 L444.3 406.1 L449.2 412.3 L464.1 416.0 L474.0 419.7 L481.4 427.1 L493.8 428.4 L502.4 434.6 L493.8 446.9 L492.5 459.3 L503.7 466.7 L511.1 459.3"/>
<path d="M492.5 459.3 L485.1 469.2 L483.9 479.1 L486.3 489.0 L478.9 494.0 L476.4 501.4 L471.5 511.3 L469.0 517.0"/>
<path d="M476.4 501.4 L483.0 508.0 L490.0 511.5"/>
<path d="M469.0 517.5 L451.7 524.9 L436.8 528.6 L429.4 533.6 L419.5 536.0 L412.1 538.5 L408.4 528.6 L405.9 518.7 L400.9 506.3 L399.7 496.4 L394.8 492.7 L382.4 494.0 L375.0 499.0 L370.0 494.0 L358.6 490.6 L348.1 491.9 L344.1 490.6"/>
<path d="M429.4 533.6 L432.0 540.0 L434.0 543.3"/>
<path d="M315.3 466.7 L328.7 476.7 L345.3 485.0 L353.7 475.0 L368.7 470.0 L379.9 466.7 L388.6 469.2 L397.2 460.5 L393.5 454.4 L397.2 442.0 L396.0 433.3"/>
<path d="M396.0 430.8 L402.2 430.8 L403.4 422.2 L407.1 417.2 L415.8 414.8"/>
<path d="M345.3 485.0 L344.1 490.6 L338.8 501.1 L332.2 511.7 L327.0 522.2 L321.7 527.5 L316.4 531.5 L305.8 536.8 L300.6 546.0 L299.4 560.0"/>
<path d="M250.7 459.9 L262.0 451.7 L273.7 450.0 L285.3 455.0 L292.0 456.7 L302.0 451.7 L307.0 453.3 L307.0 461.7 L313.7 461.7 L315.3 466.7"/>
<path d="M316.4 531.5 L329.6 531.5 L345.4 534.1 L353.4 536.8 L361.3 539.4 L365.2 546.0 L365.2 553.9 L371.8 559.2 L378.4 564.5 L379.8 569.8 L383.7 571.7"/>
<path d="M307.0 588.3 L317.0 589.3 L325.0 586.0 L335.3 580.0 L348.7 578.3 L362.0 575.0 L375.3 578.3 L382.0 575.0"/>
<path d="M306.0 600.0 L319.2 603.4 L329.8 602.0 L340.3 592.8 L350.9 587.5 L361.5 586.2 L372.0 587.5 L376.0 592.8 L380.0 600.0"/>
<path d="M493.1 299.3 L501.0 300.3 L509.6 301.8 L517.5 306.1 L521.5 303.2 L520.5 295.2 L523.5 288.3 L522.5 284.4 L527.4 279.4 L531.4 273.5 L535.3 266.5 L540.3 262.6"/>
<path d="M522.5 284.4 L529.4 286.3 L537.3 283.4 L540.3 280.4 L537.3 288.3 L539.3 292.3 L545.2 291.3 L550.2 292.3 L551.2 286.3 L557.1 284.4 L565.0 287.3 L573.0 288.3"/>
<path d="M521.5 303.2 L527.4 305.1 L535.3 301.2 L542.3 299.2 L545.2 303.2 L542.3 309.1 L544.3 313.1 L551.2 309.1 L557.1 304.2 L565.0 301.2 L573.0 299.2"/>
<path d="M483.2 321.1 L487.1 323.1 L492.1 331.0 L499.0 327.0 L506.9 319.1 L514.9 318.1 L519.0 322.0 L524.5 325.0 L527.4 328.9 L535.3 325.0 L545.2 326.9 L555.1 326.9 L563.1 323.0 L571.0 321.0"/>
<path d="M527.4 328.9 L529.4 334.9 L532.4 342.8 L533.4 349.9 L527.3 353.3 L532.3 361.7 L537.3 360.0 L540.7 360.0"/>
<path d="M529.4 334.0 L537.3 336.8 L545.2 342.8 L552.2 348.7"/>
</g>
<path d="M76.0 162.3 L100.0 161.0 L101.7 159.0 L110.0 155.7 L115.0 170.0 L126.7 177.3 L130.0 176.6 L137.9 177.1 L140.6 173.9 L148.5 168.6 L156.4 163.4 L161.7 156.8 L168.3 154.1 L164.3 151.5 L156.4 150.2 L155.9 143.6 L158.5 137.0 L156.4 129.0 L151.1 124.3 L156.4 124.3 L163.0 127.7 L173.6 133.0 L178.8 127.7 L190.7 123.8 L198.6 119.8 L205.2 114.5 L209.2 110.6 L214.5 110.6 L215.8 118.5 L221.1 125.1 L219.8 134.3 L217.1 143.6 L218.4 152.8 L223.7 162.0 L232.4 170.0 L238.3 167.3 L246.2 162.8 L256.7 159.4 L271.3 157.6 L273.9 151.5 L287.0 149.5 L290.3 154.3 L302.0 153.3 L315.3 155.0 L322.0 146.7 L330.3 131.7 L337.0 122.3 L342.0 126.0 L343.7 140.0 L348.7 156.7 L358.7 163.3 L359.6 170.0 L354.7 177.4 L344.8 187.3 L341.0 191.5 L344.8 188.6 L357.1 189.8 L369.5 190.3 L379.4 193.5 L380.6 197.2 L378.2 204.7 L374.5 212.1 L381.9 209.6 L385.6 202.2 L394.3 198.5 L404.2 202.2 L408.0 203.0 L412.8 207.1 L416.0 205.0 L419.0 209.6 L422.0 207.5 L424.0 212.1 L428.9 214.6 L431.0 212.0 L433.9 219.5 L436.4 225.7 L435.1 231.9 L432.7 239.3 L436.0 232.0 L438.8 231.9 L441.0 226.0 L443.8 226.9 L453.7 225.7 L462.0 227.0 L470.0 229.9 L481.9 232.9 L489.8 230.9 L501.7 231.9 L509.6 235.8 L517.5 241.8 L525.4 249.7 L533.4 257.6 L540.3 262.6 L549.2 265.5 L557.1 265.1 L565.0 267.5 L569.0 273.5 L572.0 283.4 L574.0 293.3 L575.0 303.2 L573.0 315.0 L569.0 326.9 L563.1 334.9 L557.1 342.8 L553.2 349.9 L540.7 360.0 L535.7 370.0 L529.0 380.0 L522.3 385.0 L519.0 382.0 L515.7 393.3 L517.3 406.7 L517.3 423.3 L515.7 440.0 L512.3 456.7 L507.3 470.0 L502.3 486.7 L499.0 493.3 L494.0 503.3 L489.0 513.3 L485.7 521.7 L475.7 528.3 L467.3 533.3 L457.3 535.0 L454.0 538.3 L440.7 538.3 L434.0 543.3 L424.0 550.0 L414.0 551.7 L404.0 555.0 L388.7 568.3 L383.7 571.7 L382.0 580.0 L380.3 590.0 L380.6 600.0 L379.4 607.9 L376.4 615.8 L371.5 623.8 L365.5 631.7 L360.6 638.6 L357.6 645.5 L354.9 651.8 L350.9 659.7 L345.0 666.6 L337.0 672.6 L330.1 677.5 L327.1 679.5 L324.2 686.4 L320.2 692.4 L314.3 698.3 L309.3 700.5 L310.3 695.3 L313.3 688.4 L312.3 685.4 L308.3 683.5 L305.3 677.5 L299.4 672.6 L294.5 669.6 L287.5 664.7 L279.6 659.7 L275.6 661.7 L272.7 656.7 L265.7 650.8 L259.8 645.8 L253.9 648.8 L251.9 646.8 L259.8 638.9 L267.7 630.0 L273.7 623.3 L282.0 613.3 L292.0 606.7 L302.0 600.0 L308.7 593.3 L307.0 588.3 L303.7 578.3 L300.3 576.7 L295.3 571.7 L297.0 563.3 L299.4 560.0 L291.1 553.1 L282.9 552.3 L280.4 542.4 L278.7 534.2 L274.6 529.2 L266.4 525.9 L261.4 526.7 L253.2 525.9 L245.7 522.6 L246.6 509.4 L245.7 499.5 L243.3 492.9 L244.9 484.7 L248.2 474.8 L251.5 466.5 L250.7 459.9 L248.7 456.7 L240.3 446.7 L237.0 436.0 L215.3 435.0 L213.7 423.3 L211.9 416.0 L210.6 406.1 L208.2 397.5 L199.5 393.8 L187.1 391.3 L177.2 386.3 L167.3 380.1 L159.9 378.9 L149.9 371.6 L143.7 361.7 L140.0 351.8 L140.0 344.4 L138.7 336.9 L126.3 338.2 L121.4 338.9 L114.0 343.1 L109.0 348.1 L101.6 351.8 L92.9 357.2 L84.3 354.3 L74.4 355.5 L65.7 354.3 L66.4 338.2 L65.7 332.0 L59.5 335.7 L47.1 332.5 L34.8 332.0 L29.8 330.7 L32.3 325.8 L26.1 317.1 L23.6 309.7 L18.7 302.3 L19.9 298.6 L21.1 296.0 L27.2 287.3 L31.1 276.7 L32.4 267.5 L36.4 263.5 L49.6 255.6 L70.7 254.3 L74.7 253.0 L76.0 246.0 L81.7 216.7 L81.0 203.3 L76.0 195.0 L74.0 188.3 L75.0 180.7 L83.3 180.0 L87.3 177.3 L86.0 172.3 L76.0 171.7Z" fill="none" stroke="#000" stroke-width="1.3" stroke-linejoin="round"/>
<path d="M312.3 685.4 L318.2 682.5 L320.2 679.5 L319.2 684.5 L316.2 687.4 L313.3 688.4" fill="none" stroke="#000" stroke-width="1.0" stroke-linejoin="round" stroke-linecap="round"/>
<path d="M357.6 620.8 L360.5 623.0 L359.0 627.0 L362.6 630.0 L359.5 633.0 L360.6 636.6" fill="none" stroke="#000" stroke-width="1.0" stroke-linejoin="round" stroke-linecap="round"/>
<path d="M334.0 200.0 L338.0 196.0 L343.0 192.0 L346.0 186.0 L350.0 184.0" fill="none" stroke="#000" stroke-width="1.8" stroke-linejoin="round" stroke-linecap="round"/>
<path d="M336.0 207.0 L340.0 202.0 L345.0 197.0 L348.0 190.0 L352.0 187.0" fill="none" stroke="#000" stroke-width="1.8" stroke-linejoin="round" stroke-linecap="round"/>
<path d="M328.0 203.0 L334.0 204.0 L338.0 201.0" fill="none" stroke="#000" stroke-width="1.2" stroke-linejoin="round" stroke-linecap="round"/>
<path d="M340.0 190.0 L344.0 195.0 L350.0 198.0 L352.0 205.0 L356.0 211.0 L357.0 215.0" fill="none" stroke="#000" stroke-width="1.3" stroke-linejoin="round" stroke-linecap="round"/>
<path d="M345.0 188.0 L350.0 192.0 L349.0 199.0" fill="none" stroke="#000" stroke-width="1.3" stroke-linejoin="round" stroke-linecap="round"/>
<path d="M352.0 199.0 L356.0 203.0 L362.0 207.0 L368.0 209.0 L374.0 206.0" fill="none" stroke="#000" stroke-width="1.2" stroke-linejoin="round" stroke-linecap="round"/>
<path d="M362.0 215.0 L367.0 210.0 L372.0 206.0 L378.0 200.0" fill="none" stroke="#000" stroke-width="1.4" stroke-linejoin="round" stroke-linecap="round"/>
<path d="M366.0 226.0 L368.0 218.0 L371.0 211.0" fill="none" stroke="#000" stroke-width="1.2" stroke-linejoin="round" stroke-linecap="round"/>
<path d="M374.0 212.0 L377.0 205.0 L382.0 207.0" fill="none" stroke="#000" stroke-width="1.2" stroke-linejoin="round" stroke-linecap="round"/>
<path d="M352.0 177.3 L348.0 183.0 L343.0 189.0" fill="none" stroke="#000" stroke-width="1.8" stroke-linejoin="round" stroke-linecap="round"/>
<path d="M342.0 645.8 L344.0 651.8 L348.5 648.8 L349.9 649.8 L346.9 657.7 L343.0 664.7 L337.0 669.6 L329.1 674.6 L326.8 676.8 L328.1 673.6 L333.1 669.6 L339.0 662.7 L342.0 655.7 L341.4 649.8Z" fill="#fff" stroke="#000" stroke-width="1.3" stroke-linejoin="round"/>
<g stroke="#333" stroke-width="0.8" stroke-dasharray="1 1" opacity="0.45">
<line x1="73.8" y1="98" x2="73.8" y2="709.5"/>
<line x1="216.4" y1="98" x2="216.4" y2="709.5"/>
<line x1="358.9" y1="98" x2="358.9" y2="709.5"/>
<line x1="501.45" y1="98" x2="501.45" y2="709.5"/>
<line x1="11" y1="188.2" x2="596" y2="188.2"/>
<line x1="11" y1="340.6" x2="596" y2="340.6"/>
<line x1="11" y1="493.0" x2="596" y2="493.0"/>
<line x1="11" y1="645.4" x2="596" y2="645.4"/>
</g>
<g stroke="#444" stroke-width="0.8" opacity="0.55">
<path d="M71.3 188.2 h5 M73.8 185.7 v5"/>
<path d="M71.3 340.6 h5 M73.8 338.1 v5"/>
<path d="M71.3 493.0 h5 M73.8 490.5 v5"/>
<path d="M71.3 645.4 h5 M73.8 642.9 v5"/>
<path d="M213.9 188.2 h5 M216.4 185.7 v5"/>
<path d="M213.9 340.6 h5 M216.4 338.1 v5"/>
<path d="M213.9 493.0 h5 M216.4 490.5 v5"/>
<path d="M213.9 645.4 h5 M216.4 642.9 v5"/>
<path d="M356.4 188.2 h5 M358.9 185.7 v5"/>
<path d="M356.4 340.6 h5 M358.9 338.1 v5"/>
<path d="M356.4 493.0 h5 M358.9 490.5 v5"/>
<path d="M356.4 645.4 h5 M358.9 642.9 v5"/>
<path d="M498.95 188.2 h5 M501.45 185.7 v5"/>
<path d="M498.95 340.6 h5 M501.45 338.1 v5"/>
<path d="M498.95 493.0 h5 M501.45 490.5 v5"/>
<path d="M498.95 645.4 h5 M501.45 642.9 v5"/>
</g>
<g font-family="Liberation Sans, sans-serif" font-size="8.7" fill="#111" text-anchor="middle" stroke="#111" stroke-width="0.3" opacity="0.999">
<text transform="translate(74.1 115.2) scale(0.92 1)">70W</text>
<text transform="translate(74.1 267.59999999999997) scale(0.92 1)">70W</text>
<text transform="translate(74.1 420.0) scale(0.92 1)">70W</text>
<text transform="translate(74.1 572.4000000000001) scale(0.92 1)">70W</text>
<text transform="translate(216.70000000000002 115.2) scale(0.92 1)">60W</text>
<text transform="translate(216.70000000000002 267.59999999999997) scale(0.92 1)">60W</text>
<text transform="translate(216.70000000000002 420.0) scale(0.92 1)">60W</text>
<text transform="translate(216.70000000000002 572.4000000000001) scale(0.92 1)">60W</text>
<text transform="translate(359.2 115.2) scale(0.92 1)">50W</text>
<text transform="translate(359.2 267.59999999999997) scale(0.92 1)">50W</text>
<text transform="translate(359.2 420.0) scale(0.92 1)">50W</text>
<text transform="translate(359.2 572.4000000000001) scale(0.92 1)">50W</text>
<text transform="translate(501.75 115.2) scale(0.92 1)">40W</text>
<text transform="translate(501.75 267.59999999999997) scale(0.92 1)">40W</text>
<text transform="translate(501.75 420.0) scale(0.92 1)">40W</text>
<text transform="translate(501.75 572.4000000000001) scale(0.92 1)">40W</text>
<text transform="translate(145.1 191.39999999999998) scale(0.92 1)">0S</text>
<text transform="translate(287.65 191.39999999999998) scale(0.92 1)">0S</text>
<text transform="translate(430.2 191.39999999999998) scale(0.92 1)">0S</text>
<text transform="translate(145.1 343.8) scale(0.92 1)">10S</text>
<text transform="translate(287.65 343.8) scale(0.92 1)">10S</text>
<text transform="translate(430.2 343.8) scale(0.92 1)">10S</text>
<text transform="translate(572.7 343.8) scale(0.92 1)">10S</text>
<text transform="translate(145.1 496.2) scale(0.92 1)">20S</text>
<text transform="translate(287.65 496.2) scale(0.92 1)">20S</text>
<text transform="translate(430.2 496.2) scale(0.92 1)">20S</text>
<text transform="translate(572.7 496.2) scale(0.92 1)">20S</text>
<text transform="translate(145.1 648.6) scale(0.92 1)">30S</text>
<text transform="translate(287.65 648.6) scale(0.92 1)">30S</text>
<text transform="translate(430.2 648.6) scale(0.92 1)">30S</text>
<text transform="translate(572.7 648.6) scale(0.92 1)">30S</text>
</g>
<path d="M297.0 573.5 C298.3 572.2 301.9 568.8 305.0 566.0 C308.1 563.2 312.0 559.7 315.3 556.7 C318.6 553.7 321.7 551.1 325.0 548.0 C328.3 544.9 331.6 541.3 335.3 538.3 C339.0 535.3 343.1 532.5 347.0 530.0 C350.9 527.5 354.9 525.2 358.7 523.3 C362.5 521.4 366.1 519.9 370.0 518.5 C373.9 517.1 378.2 515.9 382.0 515.0 C385.8 514.1 389.3 513.5 393.0 513.0 C396.7 512.5 400.8 512.2 404.0 511.7 C407.2 511.2 409.2 510.8 412.0 510.0 C414.8 509.2 417.9 508.2 420.7 506.7 C423.5 505.2 426.2 503.2 429.0 501.0 C431.8 498.8 434.8 495.8 437.3 493.3 C439.8 490.8 441.8 488.2 444.0 486.0 C446.2 483.8 448.7 481.6 450.7 480.0 C452.7 478.4 454.1 477.3 456.0 476.5 C457.9 475.7 460.4 475.2 462.3 475.0 C464.2 474.8 466.1 474.9 467.5 475.5 C468.9 476.1 470.0 477.1 470.7 478.3 C471.4 479.6 471.5 481.3 471.5 483.0 C471.5 484.7 471.6 486.1 470.7 488.3 C469.8 490.5 467.7 493.5 466.0 496.0 C464.3 498.5 462.7 500.6 460.7 503.3 C458.7 506.0 456.2 508.9 454.0 512.0 C451.8 515.1 449.3 518.7 447.3 521.7 C445.3 524.7 443.7 527.0 442.0 530.0 C440.3 533.0 438.6 537.0 437.3 540.0 C436.0 543.0 434.8 545.2 434.0 548.0 C433.2 550.8 432.5 553.9 432.3 556.7 C432.1 559.5 432.4 562.2 433.0 565.0 C433.6 567.8 434.7 570.6 435.7 573.3 C436.7 576.0 437.9 578.5 439.0 581.0 C440.1 583.5 441.3 585.6 442.3 588.3 C443.3 591.0 444.2 593.9 445.0 597.0 C445.8 600.1 446.5 603.2 447.3 606.7 C448.1 610.2 449.2 614.0 450.0 618.0 C450.8 622.0 451.9 628.8 452.3 631.0" fill="none" stroke="#fb9229" stroke-width="7.5" stroke-linecap="butt" stroke-linejoin="round"/>
<path d="M243.5 624.0 C245.8 623.6 253.2 622.2 257.0 621.5 C260.8 620.8 262.6 620.0 266.4 619.5 C270.2 619.0 275.6 619.0 280.0 618.8 C284.4 618.6 288.9 619.0 292.8 618.4 C296.7 617.8 300.3 617.3 303.4 615.2 C306.5 613.1 308.7 609.3 311.3 606.0 C313.9 602.7 316.6 599.8 319.2 595.4 C321.8 591.0 324.0 584.4 327.1 579.6 C330.2 574.8 333.7 569.9 337.7 566.4 C341.7 562.9 346.9 559.9 350.9 558.5 C354.9 557.1 358.4 557.1 361.5 558.0 C364.6 558.9 366.8 560.6 369.4 563.8 C372.0 567.0 374.9 571.7 377.3 577.0 C379.7 582.3 381.9 588.8 383.9 595.4 C385.9 602.0 387.5 611.0 389.2 616.6 C390.9 622.2 392.5 625.4 394.0 629.0 C395.5 632.6 397.3 636.5 398.0 638.0" fill="none" stroke="#2ee630" stroke-width="7.5" stroke-linecap="butt" stroke-linejoin="round"/>
<g font-family="Liberation Sans, sans-serif" font-weight="bold" font-size="24.9" fill="#0a0a0a" opacity="0.999">
<text transform="translate(331.6 630.9) scale(0.93 1)" x="0" y="0">23</text>
<text transform="translate(396.9 664) scale(0.93 1)" x="0" y="0">25</text>
<text transform="translate(466.3 604.2) scale(0.93 1)" x="0" y="0">27</text>
</g>
<g><rect x="470.5" y="109" width="107.8" height="105.5" rx="6" ry="6" fill="#07075f"/><path d="M557.3 145.5 L574.6 149.5 L556.9 149.2 L556.6 150.0 L565.4 157.0 L554.8 153.2 L554.3 153.8 L563.7 168.8 L551.4 156.1 L550.6 156.4 L551.9 167.7 L547.1 157.4 L546.3 157.5 L542.3 174.8 L542.6 157.1 L541.8 156.8 L534.8 165.6 L538.6 155.0 L538.0 154.5 L523.0 163.9 L535.7 151.6 L535.4 150.8 L524.1 152.1 L534.4 147.3 L534.3 146.5 L517.0 142.5 L534.7 142.8 L535.0 142.0 L526.2 135.0 L536.8 138.8 L537.3 138.2 L527.9 123.2 L540.2 135.9 L541.0 135.6 L539.7 124.3 L544.5 134.6 L545.3 134.5 L549.3 117.2 L549.0 134.9 L549.8 135.2 L556.8 126.4 L553.0 137.0 L553.6 137.5 L568.6 128.1 L555.9 140.4 L556.2 141.2 L567.5 139.9 L557.2 144.7Z" fill="#f5c81e" stroke="#4a3c08" stroke-width="0.5" stroke-linejoin="round"/><circle cx="545.8" cy="146" r="11.2" fill="#fbd630" stroke="#d9a81a" stroke-width="0.6"/><g fill="#2ba7e2"><circle cx="485.1" cy="156.0" r="9.9"/><circle cx="499.0" cy="150.1" r="11.3"/><circle cx="518.8" cy="152.1" r="13.3"/><circle cx="540.5" cy="166.1" r="10.9"/><circle cx="553.4" cy="173.8" r="9.3"/><circle cx="494.0" cy="169.8" r="11.3"/><circle cx="514.8" cy="173.8" r="10.3"/><circle cx="533.6" cy="177.5" r="8.4"/><circle cx="549.4" cy="177.5" r="7.9"/><circle cx="529.6" cy="164.5" r="10.4"/><circle cx="507.9" cy="160.9" r="12.3"/></g><g fill="#fff"><circle cx="485.8" cy="154.5" r="9.5"/><circle cx="499.7" cy="148.6" r="10.9"/><circle cx="519.5" cy="150.6" r="12.9"/><circle cx="541.2" cy="164.6" r="10.5"/><circle cx="554.1" cy="172.3" r="8.9"/><circle cx="494.7" cy="168.3" r="10.9"/><circle cx="515.5" cy="172.3" r="9.9"/><circle cx="534.3" cy="176.0" r="8.0"/><circle cx="550.1" cy="176.0" r="7.5"/><circle cx="530.3" cy="163.0" r="10.0"/><circle cx="508.6" cy="159.4" r="11.9"/></g><g fill="none" stroke="#2ba7e2" stroke-width="1.6" stroke-linecap="round"><path d="M501.6 142.6 Q493 147 490.7 157.4 Q492.5 164.5 504.6 166.3"/><path d="M517.5 160.4 Q522 168 533.3 170.3"/><path d="M535.3 152.2 Q544 154 548.2 163.4"/><path d="M548 168 q4 1.5 5.5 5"/></g><text x="486.2" y="207" font-family="Liberation Sans, sans-serif" font-weight="bold" font-size="27.2" fill="#fff" opacity="0.999" textLength="79.8" lengthAdjust="spacingAndGlyphs">INMET</text></g>
<rect x="10.50" y="710.2" width="48.83" height="13.3" fill="#0818c8" stroke="#222" stroke-width="0.9"/>
<rect x="59.33" y="710.2" width="48.83" height="13.3" fill="#55a1f3" stroke="#222" stroke-width="0.9"/>
<rect x="108.17" y="710.2" width="48.83" height="13.3" fill="#78b8f5" stroke="#222" stroke-width="0.9"/>
<rect x="157.00" y="710.2" width="48.83" height="13.3" fill="#9cd0f8" stroke="#222" stroke-width="0.9"/>
<rect x="205.83" y="710.2" width="48.83" height="13.3" fill="#bfe6f8" stroke="#222" stroke-width="0.9"/>
<rect x="254.67" y="710.2" width="48.83" height="13.3" fill="#dff6e8" stroke="#222" stroke-width="0.9"/>
<rect x="303.50" y="710.2" width="48.83" height="13.3" fill="#f8f5c0" stroke="#222" stroke-width="0.9"/>
<rect x="352.33" y="710.2" width="48.83" height="13.3" fill="#fde488" stroke="#222" stroke-width="0.9"/>
<rect x="401.17" y="710.2" width="48.83" height="13.3" fill="#fdc75f" stroke="#222" stroke-width="0.9"/>
<rect x="450.00" y="710.2" width="48.83" height="13.3" fill="#fa9c3b" stroke="#222" stroke-width="0.9"/>
<rect x="498.83" y="710.2" width="48.83" height="13.3" fill="#f25c26" stroke="#222" stroke-width="0.9"/>
<rect x="547.67" y="710.2" width="48.83" height="13.3" fill="#e61a1a" stroke="#222" stroke-width="0.9"/>
<line x1="10.5" y1="710" x2="596.5" y2="710" stroke="#111" stroke-width="1.4"/>
<g font-family="Liberation Sans, sans-serif" font-size="10" fill="#222" opacity="0.999">
<text x="11.3" y="734">15</text>
<text x="60.1" y="734">17</text>
<text x="109.0" y="734">19</text>
<text x="157.8" y="734">21</text>
<text x="206.6" y="734">23</text>
<text x="255.5" y="734">25</text>
<text x="304.3" y="734">27</text>
<text x="353.1" y="734">29</text>
<text x="402.0" y="734">31</text>
<text x="450.8" y="734">33</text>
<text x="499.6" y="734">35</text>
<text x="548.5" y="734">37</text>
</g>
<path d="M10.95 737 V97.85 H597" fill="none" stroke="#262626" stroke-width="1.9"/>
<path d="M596.6 97 V737" fill="none" stroke="#262626" stroke-width="1.2"/>
<path d="M10 736.5 H597.2" fill="none" stroke="#444" stroke-width="1"/>
<text x="21" y="702.5" font-family="Liberation Serif, serif" font-weight="bold" font-size="32" fill="#000" opacity="0.999">Abril</text>
</svg>
</body></html>
